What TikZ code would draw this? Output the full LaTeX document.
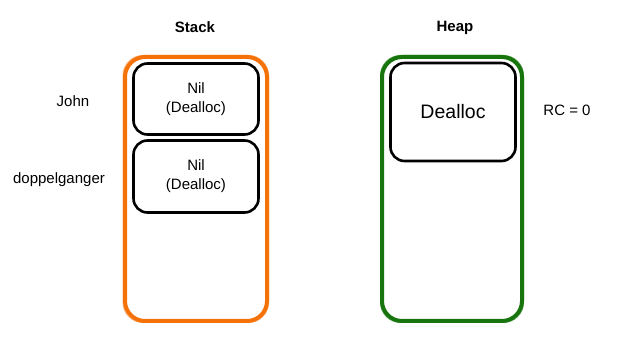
\documentclass[tikz,border=0pt]{standalone}
\usepackage{fontspec}
\setmainfont{Liberation Sans}
\definecolor{stackorange}{RGB}{244,114,8}
\definecolor{heapgreen}{RGB}{24,116,12}
\tikzset{
  x=1pt,y=-1pt,
  crayon/.style={line width=4pt, rounded corners=20pt},
  crayonedge/.style={line width=1pt, rounded corners=20pt, opacity=0.5},
  membox/.style={draw=black, line width=2.6pt, rounded corners=14pt, fill=white},
  lbl/.style={font=\fontsize{15}{19}\selectfont, align=center},
  ttl/.style={font=\fontsize{15}{17}\selectfont\bfseries},
}
\begin{document}
\begin{tikzpicture}
\useasboundingbox (0,0) rectangle (635,347);
% outer containers
\draw[crayon, draw=stackorange] (125,57) rectangle (267,321);
\draw[crayonedge, draw=stackorange] (123,55.5) rectangle (268.5,322.5);
\draw[crayon, draw=heapgreen] (382,57) rectangle (522,321);
\draw[crayonedge, draw=heapgreen] (380.5,55.5) rectangle (523.5,322.5);
% titles
\node[ttl] (stack) at (195,27) {Stack};
\node[ttl] (heap) at (455,28) {Heap};
% stack boxes
\node[membox, minimum width=125pt, minimum height=71pt, lbl] (john) at (196,99) {Nil\\(Dealloc)};
\node[membox, minimum width=125pt, minimum height=72pt, lbl] (dopp) at (196,176.5) {Nil\\(Dealloc)};
% heap box
\node[membox, minimum width=125pt, minimum height=98pt, font=\fontsize{19.5}{22}\selectfont] (obj) at (453,112) {Dealloc};
% labels
\node[lbl] (johnlbl) at (73,101) {John};
\node[lbl] (dopplbl) at (59,180) {doppelganger};
\node[lbl] (rc) at (567,110) {RC = 0};
\end{tikzpicture}
\end{document}
